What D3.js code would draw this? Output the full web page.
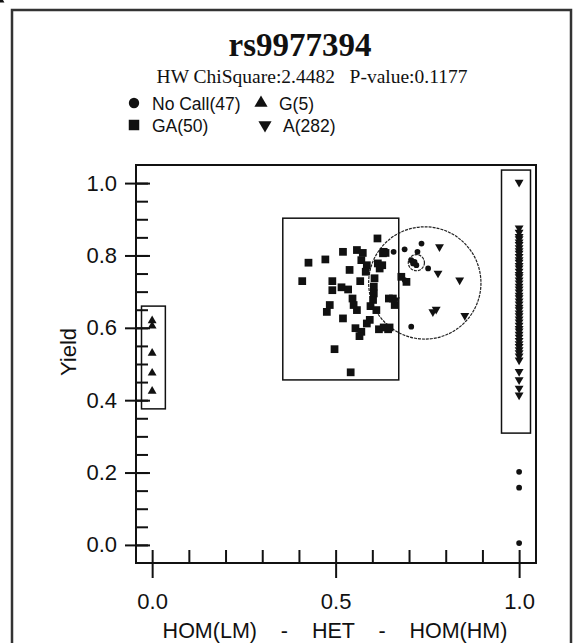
<!DOCTYPE html>
<html>
<head>
<meta charset="utf-8">
<script src="https://cdn.jsdelivr.net/npm/d3@7"></script>
<style>
  body { margin: 0; background: #fff; overflow: hidden; }
  svg { display: block; }
  text { fill: #111; }
</style>
</head>
<body>
<div id="chart"></div>
<script>
var w = 574;
var h = 643;

// --- data ---
var title = "rs9977394";
var subtitle = "HW ChiSquare:2.4482   P-value:0.1177";
var legendLabels = ["No Call(47)", "G(5)", "GA(50)", "A(282)"];
var xTicks = [0, 0.5, 1.0];
var yTicks = [0, 0.2, 0.4, 0.6, 0.8, 1.0];
var xTitle = "HOM(LM)    -    HET    -    HOM(HM)";
var yTitle = "Yield";

// No Call
var noCallX = [0.634, 0.658, 0.688, 0.734, 0.723, 0.706, 0.711, 0.720, 0.715, 0.752, 0.688, 0.706, 1.0, 1.0, 1.0];
var noCallY = [0.806, 0.810, 0.817, 0.833, 0.810, 0.787, 0.778, 0.773, 0.782, 0.764, 0.732, 0.603, 0.202, 0.158, 0.005];

// G
var gX = [0, 0, 0, 0, 0];
var gY = [0.620, 0.605, 0.530, 0.475, 0.425];

// GA
var gaX = [0.614, 0.426, 0.472, 0.520, 0.558, 0.574, 0.570, 0.585, 0.582, 0.629,
           0.538, 0.615, 0.620, 0.409, 0.491, 0.567, 0.606, 0.604, 0.604, 0.602,
           0.491, 0.516, 0.534, 0.546, 0.549, 0.484, 0.476, 0.558, 0.595, 0.611,
           0.645, 0.520, 0.554, 0.570, 0.585, 0.593, 0.565, 0.618, 0.643, 0.497,
           0.541, 0.636, 0.631, 0.627, 0.679, 0.693, 0.656, 0.661, 0.631, 0.647];
var gaY = [0.847, 0.780, 0.789, 0.810, 0.815, 0.807, 0.787, 0.773, 0.755, 0.806,
           0.760, 0.778, 0.764, 0.729, 0.729, 0.729, 0.737, 0.714, 0.695, 0.677,
           0.704, 0.712, 0.706, 0.681, 0.663, 0.663, 0.644, 0.649, 0.660, 0.649,
           0.681, 0.626, 0.599, 0.589, 0.612, 0.622, 0.577, 0.596, 0.596, 0.541,
           0.477, 0.807, 0.810, 0.773, 0.741, 0.727, 0.681, 0.663, 0.601, 0.601];

// A (het-region strays, then the HOM(HM) column)
var aX = [0.783, 0.779, 0.838, 0.774, 0.765, 0.852, 0.663,
          1.0, 1.0, 1.0, 1.0, 1.0, 1.0, 1.0, 1.0, 1.0, 1.0,
          1.0, 1.0, 1.0, 1.0, 1.0, 1.0, 1.0, 1.0, 1.0, 1.0,
          1.0, 1.0, 1.0, 1.0, 1.0, 1.0, 1.0, 1.0, 1.0, 1.0,
          1.0, 1.0, 1.0, 1.0, 1.0, 1.0, 1.0, 1.0, 1.0, 1.0,
          1.0, 1.0, 1.0, 1.0, 1.0, 1.0, 1.0, 1.0, 1.0];
var aY = [0.824, 0.751, 0.732, 0.651, 0.644, 0.634, 0.677,
          1.002, 0.876, 0.864, 0.852, 0.846, 0.837, 0.830, 0.821, 0.813, 0.806,
          0.797, 0.788, 0.781, 0.772, 0.765, 0.756, 0.747, 0.741, 0.732, 0.724,
          0.715, 0.707, 0.699, 0.690, 0.683, 0.674, 0.666, 0.657, 0.650, 0.641,
          0.633, 0.624, 0.616, 0.607, 0.598, 0.591, 0.582, 0.574, 0.565, 0.556,
          0.548, 0.539, 0.531, 0.522, 0.511, 0.479, 0.456, 0.433, 0.414, 0.378];

// cluster outlines: [x0, x1, y0, y1] and circles [cx, cy, r(x units)]
var clusterBoxes = [[-0.029, 0.036, 0.376, 0.660],
                    [0.356, 0.672, 0.456, 0.903],
                    [0.952, 1.031, 0.309, 1.036]];
var clusterRings = [[0.743, 0.724, 0.153], [0.720, 0.780, 0.022]];

// --- layout ---
var x = d3.scaleLinear().domain([-0.044, 1.046]).range([136, 536]);
var y = d3.scaleLinear().domain([-0.05, 1.05]).range([563, 165]);
var sans = "Liberation Sans, Arial, sans-serif";
var serif = "Liberation Serif, Times New Roman, serif";

var svg = d3.select("#chart")
            .append("svg")
            .attr("width", w)
            .attr("height", h);

// outer frame
svg.append("rect")
   .attr("x", 12).attr("y", 10)
   .attr("width", 559).attr("height", 650)
   .style("fill", "none")
   .style("stroke", "#333")
   .style("stroke-width", 2.5);

// titles
svg.append("text")
   .attr("x", 300).attr("y", 56)
   .attr("text-anchor", "middle")
   .style("font-family", serif)
   .style("font-weight", "bold")
   .style("font-size", "33px")
   .text(title);

svg.append("text")
   .attr("x", 312).attr("y", 83)
   .attr("text-anchor", "middle")
   .style("font-family", serif)
   .style("font-size", "19.5px")
   .style("white-space", "pre")
   .text(subtitle);

// legend
var legendSyms = [d3.symbolCircle, d3.symbolTriangle, d3.symbolSquare, d3.symbolTriangle];
var legendSizes = [85, 75, 110, 75];
var legendRot = [0, 0, 0, 180];
var legendPos = [[134, 103], [261, 103], [134, 125], [265, 125]];
legendLabels.forEach(function(lab, i) {
  svg.append("path")
     .attr("d", d3.symbol().type(legendSyms[i]).size(legendSizes[i]))
     .attr("transform", "translate(" + legendPos[i][0] + "," + legendPos[i][1] + ") rotate(" + legendRot[i] + ")")
     .style("fill", "#111");
  svg.append("text")
     .attr("x", legendPos[i][0] + 18)
     .attr("y", legendPos[i][1] + 7)
     .style("font-family", sans)
     .style("font-size", "17.5px")
     .text(lab);
});

// plot frame
svg.append("rect")
   .attr("x", 136).attr("y", 165)
   .attr("width", 400).attr("height", 398)
   .style("fill", "none")
   .style("stroke", "#111")
   .style("stroke-width", 2);

// y axis: labelled ticks outside, all ticks inside
svg.append("g")
   .attr("transform", "translate(136,0)")
   .call(d3.axisLeft(y).tickValues(yTicks).tickFormat(d3.format(".1f")).tickSize(11).tickPadding(8));
svg.append("g")
   .attr("transform", "translate(136,0)")
   .call(d3.axisRight(y).tickValues(d3.range(0, 1.001, 0.05)).tickFormat("").tickSize(12));
svg.append("g")
   .attr("transform", "translate(136,0)")
   .call(d3.axisRight(y).tickValues(yTicks).tickFormat("").tickSize(14));

// x axis
svg.append("g")
   .attr("transform", "translate(0,563)")
   .call(d3.axisBottom(x).tickValues(xTicks).tickFormat(d3.format(".1f")).tickSize(15).tickPadding(15));
svg.append("g")
   .attr("transform", "translate(0,563)")
   .call(d3.axisTop(x).tickValues(d3.range(0, 1.001, 0.1)).tickFormat("").tickSize(13));

svg.selectAll(".domain").remove();
svg.selectAll(".tick line").style("stroke", "#111").style("stroke-width", 2);
svg.selectAll(".tick text")
   .style("font-family", sans)
   .style("font-size", "22px")
   .style("fill", "#111");

// axis titles
svg.append("text")
   .attr("transform", "translate(76,352) rotate(-90)")
   .attr("text-anchor", "middle")
   .style("font-family", sans)
   .style("font-size", "22px")
   .text(yTitle);

svg.append("text")
   .attr("x", 335).attr("y", 638)
   .attr("text-anchor", "middle")
   .style("font-family", sans)
   .style("font-size", "21.5px")
   .style("white-space", "pre")
   .text(xTitle);

// cluster outlines
svg.selectAll(".box")
   .data(clusterBoxes)
   .enter()
   .append("rect")
   .attr("class", "box")
   .attr("x", function(d) { return x(d[0]); })
   .attr("y", function(d) { return y(d[3]); })
   .attr("width", function(d) { return x(d[1]) - x(d[0]); })
   .attr("height", function(d) { return y(d[2]) - y(d[3]); })
   .style("fill", "none")
   .style("stroke", "#111")
   .style("stroke-width", 1.5);

svg.selectAll(".ring")
   .data(clusterRings)
   .enter()
   .append("circle")
   .attr("class", "ring")
   .attr("cx", function(d) { return x(d[0]); })
   .attr("cy", function(d) { return y(d[1]); })
   .attr("r", function(d) { return x(d[2]) - x(0); })
   .style("fill", "none")
   .style("stroke", "#222")
   .style("stroke-width", 1.2)
   .style("stroke-dasharray", "3,1");

// points
function drawSeries(xs, ys, type, size, rot) {
  svg.append("g")
     .selectAll("path")
     .data(ys)
     .enter()
     .append("path")
     .attr("d", d3.symbol().type(type).size(size))
     .attr("transform", function(d, i) {
       return "translate(" + x(xs[i]) + "," + y(d) + ") rotate(" + rot + ")";
     })
     .style("fill", "#111");
}
drawSeries(gaX, gaY, d3.symbolSquare, 60, 0);
drawSeries(aX, aY, d3.symbolTriangle, 34, 180);
drawSeries(gX, gY, d3.symbolTriangle, 34, 0);
drawSeries(noCallX, noCallY, d3.symbolCircle, 26, 0);
</script>
</body>
</html>
